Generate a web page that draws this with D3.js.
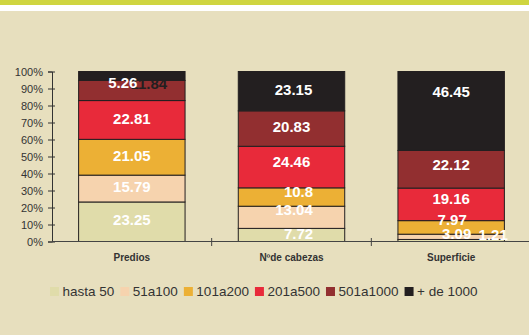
<!DOCTYPE html>
<html>
<head>
<meta charset="utf-8">
<script src="https://cdn.jsdelivr.net/npm/d3@7"></script>
<style>
  body { margin: 0; background: #e7dfbe; }
  svg { display: block; font-family: Arial, "Liberation Sans", sans-serif; }
</style>
</head>
<body>
<svg width="529" height="335"></svg>
<script>
// categories and series (percent shares per size class)
const categories = ["Predios", "Nºde cabezas", "Superficie"];
const seriesNames = ["hasta 50", "51a100", "101a200", "201a500", "501a1000", "+ de 1000"];
const hasta50 = [23.25, 7.72, 1.21];
const s51a100 = [15.79, 13.04, 3.09];
const s101a200 = [21.05, 10.8, 7.97];
const s201a500 = [22.81, 24.46, 19.16];
const s501a1000 = [11.84, 20.83, 22.12];
const mas1000 = [5.26, 23.15, 46.45];
const yTicks = [0, 10, 20, 30, 40, 50, 60, 70, 80, 90, 100];

const colors = ["#e0dcaa", "#f6d3ae", "#ecb035", "#e82a3a", "#922f30", "#231f20"];
// label shifts (dx, dy) the original chart applied to crowded labels
const nudges = [
  [[0, -2], [7, -1.5], [42, -6]],
  [[0, -2], [2.5, -7.5], [5.5, -3.5]],
  [[0, -1.5], [7, -6], [1, -8]],
  [[0, -1.5], [0, -6], [0, -6]],
  [[17, -7.5], [0, -2], [0, -4.5]],
  [[-9, 7], [2, -1.5], [0, -19]]
];

const svg = d3.select("svg");
const width = +svg.attr("width");

// header stripes
svg.append("rect").attr("width", width).attr("height", 5).attr("fill", "#cfd540");
svg.append("rect").attr("y", 5).attr("width", width).attr("height", 6).attr("fill", "#ffffff");

const values = [hasta50, s51a100, s101a200, s201a500, s501a1000, mas1000];
const table = categories.map((c, i) => {
  const row = { cat: c };
  seriesNames.forEach((s, j) => (row[s] = values[j][i]));
  return row;
});
const stacked = d3.stack().keys(seriesNames)(table);

const x = d3.scaleBand().domain(categories).range([52, 531])
  .paddingInner(1 / 3).paddingOuter(1 / 6);
const y = d3.scaleLinear().domain([0, 100]).range([241.5, 71.5]);

// y axis
const yAxis = svg.append("g").attr("transform", "translate(52,0)")
  .call(d3.axisLeft(y).tickValues(yTicks).tickFormat(d => d + "%").tickSizeOuter(0).tickSize(4));
yAxis.select(".domain").attr("stroke", "#333");
yAxis.selectAll(".tick line").attr("stroke", "#333").attr("x2", 3).attr("x1", -4);
yAxis.selectAll(".tick text").attr("x", -9).attr("fill", "#333")
  .style("font-size", "11px").style("font-family", "Arial, 'Liberation Sans', sans-serif");

// bars
const layers = svg.append("g").selectAll("g").data(stacked).join("g")
  .attr("fill", (d, i) => colors[i]);
layers.selectAll("rect").data(d => d).join("rect")
  .attr("x", d => x(d.data.cat))
  .attr("y", d => y(d[1]))
  .attr("width", x.bandwidth())
  .attr("height", d => y(d[0]) - y(d[1]))
  .attr("stroke", "#231f20")
  .attr("stroke-width", 1);

// x axis line with category separators
const xLine = svg.append("g");
xLine.append("line").attr("x1", 52).attr("x2", width).attr("y1", 241.5).attr("y2", 241.5)
  .attr("stroke", "#444");
xLine.selectAll("line.sep").data(categories.slice(1)).join("line").attr("class", "sep")
  .attr("x1", d => x(d) - x.step() * x.paddingInner() / 2)
  .attr("x2", d => x(d) - x.step() * x.paddingInner() / 2)
  .attr("y1", 238).attr("y2", 246).attr("stroke", "#444");

svg.append("g").selectAll("text").data(categories).join("text")
  .attr("x", d => x(d) + x.bandwidth() / 2)
  .attr("y", 257)
  .attr("text-anchor", "middle")
  .attr("dominant-baseline", "central")
  .attr("font-size", 10).attr("font-weight", "bold").attr("fill", "#333")
  .text(d => d);

// value labels; the 501a1000 label of Predios was dark in the original
const labels = [];
stacked.forEach((layer, i) => layer.forEach((d, j) => labels.push({ d, i, j })));
labels.sort((a, b) => (a.i === 4 && a.j === 0 ? -1 : 0) - (b.i === 4 && b.j === 0 ? -1 : 0));
svg.append("g").selectAll("text").data(labels).join("text")
  .attr("x", o => x(o.d.data.cat) + x.bandwidth() / 2 + nudges[o.i][o.j][0])
  .attr("y", o => y((o.d[0] + o.d[1]) / 2) + nudges[o.i][o.j][1])
  .attr("text-anchor", "middle")
  .attr("dominant-baseline", "central")
  .attr("font-size", 15).attr("font-weight", "bold")
  .attr("fill", o => (o.i === 4 && o.j === 0 ? "#231f20" : "#ffffff"))
  .text(o => String(values[o.i][o.j]));

// legend
const legend = svg.append("g").attr("transform", "translate(50,291.5)");
let cx = 0;
seriesNames.forEach((s, i) => {
  legend.append("rect").attr("x", cx).attr("y", -4.5).attr("width", 9).attr("height", 9)
    .attr("fill", colors[i]);
  const t = legend.append("text").attr("x", cx + 12.5).attr("dominant-baseline", "central")
    .attr("font-size", 13.5).attr("fill", "#333").text(s);
  cx += 12.5 + t.node().getComputedTextLength() + 6;
});
</script>
</body>
</html>
